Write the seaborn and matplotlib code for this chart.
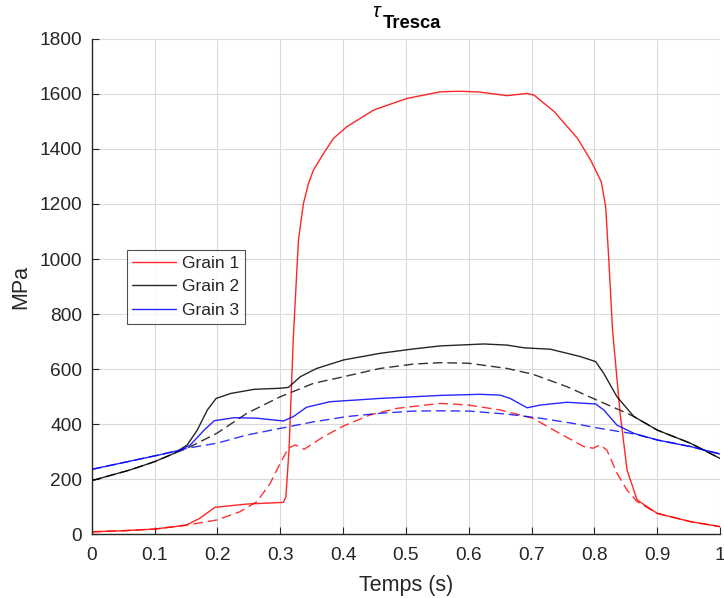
import matplotlib
matplotlib.use("Agg")
import matplotlib.pyplot as plt
import seaborn as sns
import pandas as pd

# ---- data ----
g1_t = [0, 0.05, 0.1, 0.15, 0.172, 0.196, 0.247, 0.305, 0.309, 0.314, 0.321, 0.329, 0.337,
        0.345, 0.353, 0.369, 0.385, 0.406, 0.449, 0.502, 0.555, 0.587, 0.618, 0.661, 0.693,
        0.704, 0.736, 0.773, 0.794, 0.811, 0.818, 0.823, 0.829, 0.841, 0.852, 0.868, 0.9,
        0.953, 1.0]
g1_v = [8, 12, 18, 32, 57, 97, 109, 115, 135, 305, 720, 1069, 1202,
        1275, 1324, 1384, 1439, 1481, 1542, 1584, 1608, 1610, 1607, 1594, 1602,
        1596, 1536, 1439, 1360, 1281, 1190, 996, 740, 439, 233, 124, 75,
        45, 27]

g1d_t = [0, 0.05, 0.1, 0.15, 0.199, 0.236, 0.263, 0.284, 0.3, 0.313, 0.324, 0.338, 0.369,
         0.401, 0.443, 0.486, 0.555, 0.6, 0.65, 0.702, 0.74, 0.783, 0.798, 0.809, 0.82,
         0.836, 0.852, 0.868, 0.9, 0.953, 1.0]
g1d_v = [8, 12, 18, 32, 51, 81, 118, 184, 257, 312, 324, 308, 354,
         393, 433, 457, 475, 469, 451, 421, 372, 318, 312, 324, 305,
         221, 160, 118, 75, 45, 27]

g2_t = [0, 0.061, 0.1, 0.131, 0.152, 0.168, 0.184, 0.198, 0.221, 0.258, 0.3, 0.313, 0.332,
        0.358, 0.401, 0.459, 0.512, 0.555, 0.624, 0.661, 0.688, 0.73, 0.778, 0.802, 0.815,
        0.836, 0.863, 0.9, 0.953, 1.0]
g2_v = [194, 233, 263, 293, 324, 378, 451, 493, 511, 526, 530, 533, 572,
        602, 633, 657, 673, 684, 691, 687, 677, 672, 645, 627, 584,
        499, 427, 378, 330, 275]

g2d_t = [0, 0.061, 0.1, 0.131, 0.152, 0.199, 0.247, 0.3, 0.353, 0.401, 0.459, 0.512, 0.555,
         0.6, 0.661, 0.702, 0.756, 0.804, 0.852, 0.863, 0.9, 0.953, 1.0]
g2d_v = [194, 233, 263, 293, 312, 366, 439, 499, 548, 572, 602, 618, 623,
         621, 602, 581, 536, 487, 439, 427, 378, 330, 275]

g3_t = [0, 0.061, 0.1, 0.141, 0.157, 0.179, 0.195, 0.227, 0.263, 0.305, 0.321, 0.342, 0.379,
        0.459, 0.555, 0.618, 0.65, 0.666, 0.693, 0.714, 0.756, 0.802, 0.815, 0.836, 0.863,
        0.9, 0.953, 1.0]
g3_v = [235, 265, 284, 305, 324, 378, 412, 423, 421, 411, 427, 461, 481,
        493, 504, 508, 505, 493, 459, 469, 479, 473, 451, 396, 366,
        342, 318, 291]

g3d_t = [0, 0.061, 0.1, 0.141, 0.152, 0.199, 0.247, 0.3, 0.353, 0.406, 0.459, 0.512, 0.555,
         0.6, 0.661, 0.714, 0.767, 0.809, 0.863, 0.9, 0.953, 1.0]
g3d_v = [235, 265, 284, 305, 312, 330, 360, 384, 408, 427, 439, 447, 448,
         447, 436, 421, 402, 384, 364, 342, 318, 291]

labels = ["Grain 1", "Grain 2", "Grain 3"]
x_ticks = [0, 0.1, 0.2, 0.3, 0.4, 0.5, 0.6, 0.7, 0.8, 0.9, 1]
x_ticklabels = ["0", "0.1", "0.2", "0.3", "0.4", "0.5", "0.6", "0.7", "0.8", "0.9", "1"]
y_ticks = [0, 200, 400, 600, 800, 1000, 1200, 1400, 1600, 1800]

# ---- style ----
sns.set_theme(style="white")
plt.rcParams['font.family'] = ['Liberation Sans', 'DejaVu Sans']

fig = plt.figure(figsize=(7.24, 5.98), dpi=100)
ax = fig.add_axes([0.1267, 0.107, 0.8678, 0.8278])

colors = ["#ff0000", "#000000", "#0000ff"]
solid = [(g1_t, g1_v), (g2_t, g2_v), (g3_t, g3_v)]
dashed = [(g1d_t, g1d_v), (g2d_t, g2d_v), (g3d_t, g3d_v)]

for (t, v), c in zip(dashed, colors):
    df = pd.DataFrame({"t": t, "v": v})
    sns.lineplot(data=df, x="t", y="v", ax=ax, color=c, lw=1.0, alpha=0.8,
                 legend=False, linestyle=(0, (7, 3.5)))
for (t, v), c, lab in zip(solid, colors, labels):
    df = pd.DataFrame({"t": t, "v": v})
    sns.lineplot(data=df, x="t", y="v", ax=ax, color=c, lw=1.0, alpha=0.85, label=lab)

ax.set_xlim(0, 1)
ax.set_ylim(0, 1800)
ax.set_xticks(x_ticks)
ax.set_xticklabels(x_ticklabels)
ax.set_yticks(y_ticks)
ax.grid(True, color="#dadada", lw=0.8)
ax.set_axisbelow(True)
for s in ["top", "right"]:
    ax.spines[s].set_visible(False)
for s in ["left", "bottom"]:
    ax.spines[s].set_color("#262626")
    ax.spines[s].set_linewidth(1.0)
ax.tick_params(axis="both", direction="in", length=5, width=0.8, colors="#262626",
               labelsize=13.8, left=True, bottom=True)
ax.tick_params(axis="x", pad=9)
ax.tick_params(axis="y", pad=7)
ax.set_xlabel("Temps (s)", fontsize=15.5, color="#262626", labelpad=8)
ax.set_ylabel("MPa", fontsize=15.5, color="#262626", labelpad=6)

# title: tau with bold subscript "Tresca"
fig.text(0.514, 0.971, "τ", fontsize=14.5, style="italic", color="#000000",
         ha="left", va="baseline")
fig.text(0.529, 0.953, "Tresca", fontsize=13.2, fontweight="bold", color="#000000",
         ha="left", va="baseline")

leg = ax.legend(loc="upper left", bbox_to_anchor=(0.056, 0.574), borderaxespad=0,
                frameon=True, fancybox=False, edgecolor="#262626", fontsize=12.5,
                handlelength=2.5, borderpad=0.32, labelspacing=0.5, handletextpad=0.35)
leg.get_frame().set_linewidth(0.8)
for txt in leg.get_texts():
    txt.set_color("#262626")

fig.savefig("out.png", dpi=100, facecolor="white")
